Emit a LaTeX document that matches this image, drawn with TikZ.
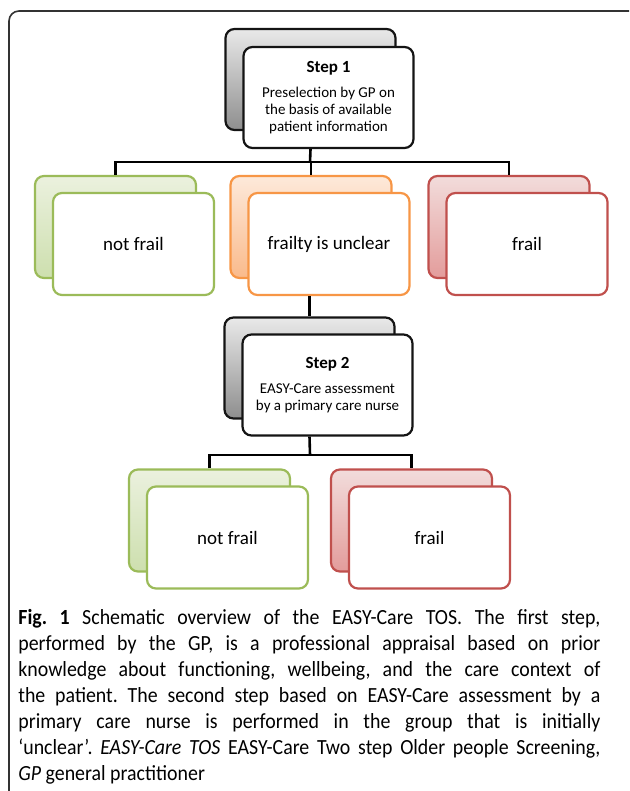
\documentclass[tikz,border=0pt]{standalone}
\usepackage{fontspec}
\setmainfont{Carlito}
\newfontfamily\capfont[FakeStretch=0.92]{Carlito}
\usepackage{tikz}

\definecolor{gyline}{HTML}{141414}
\definecolor{gytop}{HTML}{E9E9E9}
\definecolor{gybot}{HTML}{8E8E8E}
\definecolor{gnline}{HTML}{9BBB59}
\definecolor{gntop}{HTML}{EBF1DE}
\definecolor{gnbot}{HTML}{CDDFAE}
\definecolor{orline}{HTML}{F79646}
\definecolor{ortop}{HTML}{FDE9DA}
\definecolor{orbot}{HTML}{FABA8B}
\definecolor{rdline}{HTML}{C0504D}
\definecolor{rdtop}{HTML}{F2DCDB}
\definecolor{rdbot}{HTML}{E39C9B}

\tikzset{
  card/.style={rounded corners=4.5pt, minimum width=80.5pt, minimum height=51pt,
    inner sep=0pt, line width=1.1pt},
  stepcard/.style={minimum width=85pt, minimum height=50.5pt},
  backcard/.style={card, draw=#1line, top color=#1top, bottom color=#1bot},
  frontcard/.style={card, draw=#1line, fill=white, align=center,
    font=\fontsize{9.5}{11}\selectfont},
  steptext/.style={font=\fontsize{7.5}{8.5}\selectfont},
  link/.style={line width=1.3pt, draw=black},
  caption/.style={anchor=north west, inner sep=0pt, text width=291pt, align=justify,
    font=\capfont\fontsize{10.8}{13}\selectfont}
}

\begin{document}
\begin{tikzpicture}[x=0.5pt, y=-0.5pt]
    \useasboundingbox (0,0) rectangle (629,791);

    % outer frame, cut at the right and at the bottom
    \begin{scope}
        \clip (0,0) rectangle (629,791);
        \draw[line width=0.8pt, draw=black!80, rounded corners=5pt] (9,800) -- (9,11) -- (640,11) -- (640,800);
    \end{scope}

    % connectors
    \coordinate (j1) at (310,162);
    \coordinate (j2) at (310,455);

    % step 1
    \node[backcard=gy, stepcard] (s1) at (310.5,79.5) {};
    \node[frontcard=gy, stepcard, steptext, anchor=north west] (s1f) at ([shift={(18,18)}]s1.north west)
        {{\fontsize{8.5}{10}\selectfont\bfseries Step 1}\\[4pt]Preselection by GP on\\the basis of available\\patient information};

    % first outcome
    \node[backcard=gn] (gn1) at (115.5,227) {};
    \node[frontcard=gn, anchor=north west] (gn1f) at ([shift={(18,17)}]gn1.north west) {not frail};

    \node[backcard=or] (or1) at (311,227) {};
    \node[frontcard=or, anchor=north west] (or1f) at ([shift={(18,17)}]or1.north west) {frailty is unclear};

    \node[backcard=rd] (rd1) at (509,227) {};
    \node[frontcard=rd, anchor=north west] (rd1f) at ([shift={(18,17)}]rd1.north west) {frail};

    % step 2
    \node[backcard=gy, stepcard] (s2) at (309.5,368) {};
    \node[frontcard=gy, stepcard, steptext, anchor=north west] (s2f) at ([shift={(18,17)}]s2.north west)
        {{\fontsize{8.5}{10}\selectfont\bfseries Step 2}\\[4pt]EASY-Care assessment\\by a primary care nurse};

    % second outcome
    \node[backcard=gn] (gn2) at (209.5,520.5) {};
    \node[frontcard=gn, anchor=north west] (gn2f) at ([shift={(18,17)}]gn2.north west) {not frail};

    \node[backcard=rd] (rd2) at (411.5,520.5) {};
    \node[frontcard=rd, anchor=north west] (rd2f) at ([shift={(18,17)}]rd2.north west) {frail};

    \draw[link] (s1 |- s1f.south) -- (j1);
    \draw[link] (gn1.north) |- (j1) -| (rd1.north);
    \draw[link] (or1.north) -- (or1 |- j1);
    \draw[link] (s2.north |- or1f.south) -- (s2.north);
    \draw[link] (s2 |- s2f.south) -- (j2);
    \draw[link] (gn2.north) |- (j2) -| (rd2.north);

    % caption
    \node[caption] (cap) at (18,609)
        {\frenchspacing\hyphenpenalty=10000 \textbf{Fig. 1} Schematic overview of the EASY-Care TOS. The first step,\linebreak
        performed by the GP, is a professional appraisal based on prior\linebreak
        knowledge about functioning, wellbeing, and the care context of\linebreak
        the patient. The second step based on EASY-Care assessment by a\linebreak
        primary care nurse is performed in the group that is initially\linebreak
        ‘unclear’. \textit{EASY-Care TOS} EASY-Care Two step Older people Screening,\linebreak
        \textit{GP} general practitioner};
\end{tikzpicture}
\end{document}
